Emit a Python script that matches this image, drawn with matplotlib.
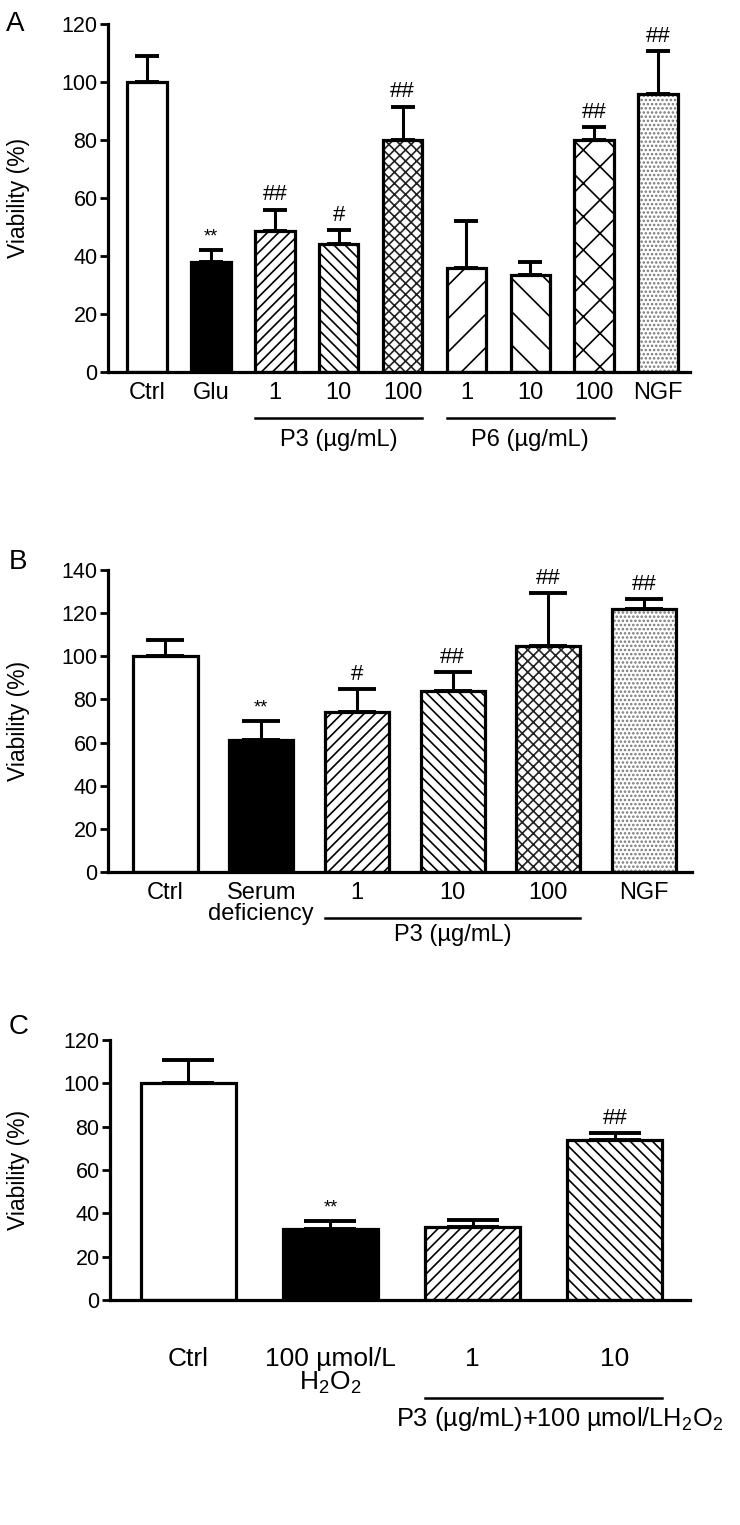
import numpy as np
import matplotlib
matplotlib.use('Agg')
import matplotlib.pyplot as plt
import matplotlib.transforms as mtransforms

plt.rcParams['font.family'] = ['Liberation Sans', 'DejaVu Sans']
plt.rcParams['mathtext.fontset'] = 'custom'
plt.rcParams['mathtext.rm'] = 'Liberation Sans'
plt.rcParams['mathtext.default'] = 'regular'
plt.rcParams['hatch.linewidth'] = 1.2

# Panel A: glutamate
a_labels = ['Ctrl', 'Glu', '1', '10', '100', '1', '10', '100', 'NGF']
a_mean = [100, 38, 48.5, 44, 80, 36, 33.5, 80, 96]
a_err = [9, 4, 7.5, 5, 11.5, 16, 4.5, 4.5, 14.5]
a_marks = ['', '**', '##', '#', '##', '', '', '##', '##']
a_groups = [('P3 (µg/mL)', 2, 4), ('P6 (µg/mL)', 5, 7)]

# Panel B: serum deficiency
b_labels = ['Ctrl', 'Serum\ndeficiency', '1', '10', '100', 'NGF']
b_mean = [100, 61, 74, 84, 105, 122]
b_err = [7.5, 9, 11, 8.5, 24.5, 4.5]
b_marks = ['', '**', '#', '##', '##', '##']
b_groups = [('P3 (µg/mL)', 2, 4)]

# Panel C: H2O2
c_labels = ['Ctrl', '100 µmol/L\nH$_2$O$_2$', '1', '10']
c_mean = [100, 33, 33.5, 74]
c_err = [11, 3.5, 3.5, 3]
c_marks = ['', '**', '', '##']

# fill styles: (facecolor, hatch, hatch colour)
WHITE = ('white', None, 'black')
BLACK = ('black', None, 'black')
P3_1 = ('white', '///', 'black')
P3_10 = ('white', '\\\\\\', 'black')
P3_100 = ('white', 'xxx', '#222222')
P6_1 = ('white', '/', 'black')
P6_10 = ('white', '\\', 'black')
P6_100 = ('white', 'x', 'black')
NGF = ('white', '....', '#777777')

a_styles = [WHITE, BLACK, P3_1, P3_10, P3_100, P6_1, P6_10, P6_100, NGF]
b_styles = [WHITE, BLACK, P3_1, P3_10, P3_100, NGF]
c_styles = [WHITE, BLACK, P3_1, P3_10]

FIG_W = 7.4
fig = plt.figure(figsize=(FIG_W, 15.25), dpi=100)


def panel(rect, labels, mean, err, marks, styles, width, xlim, ylim, yticks,
          tickpad, ylab_x, capfrac, linesp=0.95, xfs=17):
    ax = fig.add_axes(rect)
    x = np.arange(len(mean))
    for xi, m, st in zip(x, mean, styles):
        face, hatch, hcol = st
        ax.bar(xi, m, width, color=face, edgecolor=hcol, hatch=hatch,
               linewidth=0, zorder=2)
        ax.bar(xi, m, width, facecolor='none', edgecolor='black',
               linewidth=2.3, zorder=3)
    # cap length as a fraction of the bar width (in points)
    bar_pt = width * rect[2] * FIG_W * 72 / (xlim[1] - xlim[0])
    ax.errorbar(x, mean, yerr=[np.zeros(len(err)), err], fmt='none',
                ecolor='black', elinewidth=2.2, capsize=bar_pt * capfrac / 2,
                capthick=2.8, zorder=1, clip_on=False)
    for xi, m, e, mk in zip(x, mean, err, marks):
        if mk:
            fs = 13 if mk == '**' else 16
            ax.annotate(mk, (xi, m + e), xytext=(0, 3),
                        textcoords='offset points', ha='center', va='bottom',
                        fontsize=fs, annotation_clip=False)
    ax.set_xlim(*xlim)
    ax.set_ylim(*ylim)
    ax.set_yticks(yticks)
    ax.set_xticks(x)
    ax.set_xticklabels(labels, fontsize=xfs, linespacing=linesp)
    ax.tick_params(axis='x', length=0, pad=tickpad)
    ax.tick_params(axis='y', length=6, width=2, labelsize=15.5, pad=1.5)
    for s in ['top', 'right']:
        ax.spines[s].set_visible(False)
    for s in ['left', 'bottom']:
        ax.spines[s].set_linewidth(2.3)
    ax.set_ylabel('Viability (%)', fontsize=16.5)
    ax.yaxis.set_label_coords(ylab_x, 0.5)
    return ax, x


def group_line(ax, x, width, name, i0, i1, yline, ytext, xtext=None,
               ha='center', fs=17):
    trans = mtransforms.blended_transform_factory(ax.transData, ax.transAxes)
    x0 = x[i0] - width / 2
    x1 = x[i1] + width / 2
    ax.plot([x0, x1], [yline, yline], color='black', lw=1.8,
            transform=trans, clip_on=False)
    if xtext is None:
        xtext = (x0 + x1) / 2
    ax.text(xtext, ytext, name, transform=trans, ha=ha, va='center',
            fontsize=fs)


# A
wa = 0.62
axa, xa = panel([0.146, 0.7561, 0.7865, 0.2282], a_labels, a_mean, a_err,
                a_marks, a_styles, wa, (-0.61, 8.5), (0, 120),
                [0, 20, 40, 60, 80, 100, 120], 7, -0.134, 0.62)
for name, i0, i1 in a_groups:
    group_line(axa, xa, wa, name, i0, i1, -0.132, -0.195)

# B
wb = 0.67
axb, xb = panel([0.146, 0.4282, 0.789, 0.198], b_labels, b_mean, b_err,
                b_marks, b_styles, wb, (-0.6, 5.5), (0, 140),
                [0, 20, 40, 60, 80, 100, 120, 140], 7, -0.134, 0.6)
for name, i0, i1 in b_groups:
    group_line(axb, xb, wb, name, i0, i1, -0.152, -0.21)

# C
wc = 0.67
axc, xc = panel([0.1486, 0.1475, 0.784, 0.1705], c_labels, c_mean, c_err,
                c_marks, c_styles, wc, (-0.55, 3.53), (0, 120),
                [0, 20, 40, 60, 80, 100, 120], 34, -0.138, 0.55,
                linesp=0.95, xfs=19)
group_line(axc, xc, wc, 'P3 (µg/mL)+100 µmol/LH$_2$O$_2$', 2, 3, -0.377, -0.456,
           xtext=1.46, ha='left', fs=18.3)

fig.text(0.008, 0.993, 'A', fontsize=20, va='top', ha='left')
fig.text(0.012, 0.640, 'B', fontsize=20, va='top', ha='left')
fig.text(0.012, 0.335, 'C', fontsize=20, va='top', ha='left')

fig.savefig('out.png', dpi=100)
